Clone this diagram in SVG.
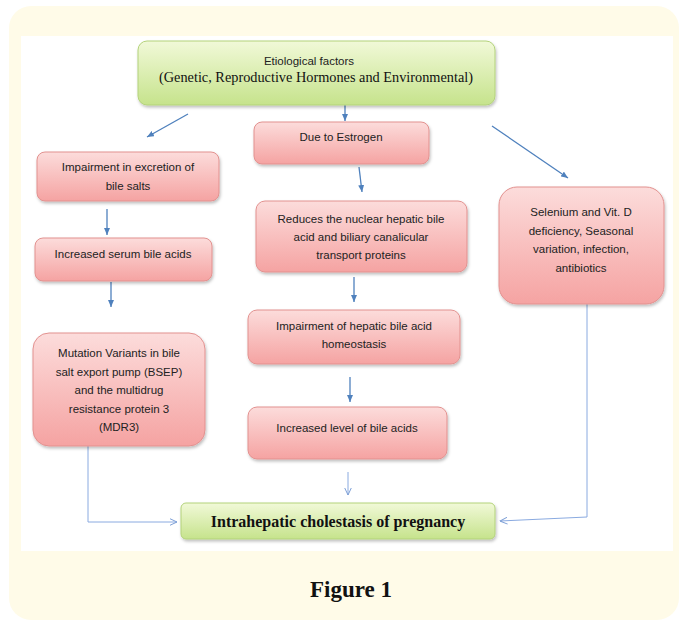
<svg xmlns="http://www.w3.org/2000/svg" width="679" height="621" viewBox="0 0 679 621">
<defs>
<linearGradient id="gRed" x1="0" y1="0" x2="0" y2="1">
<stop offset="0" stop-color="#fcdcdb"/>
<stop offset="1" stop-color="#f5a3a2"/>
</linearGradient>
<linearGradient id="gGreen" x1="0" y1="0" x2="0" y2="1">
<stop offset="0" stop-color="#f1f9d8"/>
<stop offset="1" stop-color="#c6e38c"/>
</linearGradient>
<filter id="sh" x="-10%" y="-10%" width="120%" height="130%">
<feDropShadow dx="1" dy="2" stdDeviation="1.5" flood-color="#000" flood-opacity="0.25"/>
</filter>
<marker id="mf" viewBox="0 0 7 6" refX="7" refY="3" markerWidth="7" markerHeight="6" markerUnits="userSpaceOnUse" orient="auto">
<path d="M0,0 L7,3 L0,6 z" fill="#4f81bd"/>
</marker>
<marker id="mo" viewBox="0 0 8 8" refX="7.5" refY="4" markerWidth="8" markerHeight="8" markerUnits="userSpaceOnUse" orient="auto">
<path d="M0,0.5 L7.5,4 L0,7.5" fill="none" stroke="#7d9fd6" stroke-width="1"/>
</marker>
<style>
.red{fill:url(#gRed);stroke:#e2918f;stroke-width:1;filter:url(#sh)}
.green{fill:url(#gGreen);stroke:#b3d27a;stroke-width:1;filter:url(#sh)}
.t{font-family:"Liberation Sans",Arial,sans-serif;font-size:11.5px;fill:#222;text-anchor:middle}
.s{font-family:"Liberation Serif","Times New Roman",serif;fill:#111;text-anchor:middle}
.c{fill:none;stroke:#4f81bd;stroke-width:1.3;marker-end:url(#mf)}
.o{fill:none;stroke:#8aaae0;stroke-width:1;marker-end:url(#mo)}
</style>
</defs>
<rect x="9" y="6" width="670" height="614" rx="22" fill="#fffbe8"/>
<rect x="21" y="36" width="652" height="515" fill="#ffffff"/>

<g id="connectors">
<path class="c" d="M345,105 L345,121"/>
<path class="c" d="M188,114 L147,137"/>
<path class="c" d="M492,126 L568,178"/>
<path class="c" d="M359,167 L362,192"/>
<path class="c" d="M354,277 L354,302"/>
<path class="c" d="M350,377 L350,402"/>
<path class="o" d="M348,472 L348,495"/>
<path class="c" d="M107,209 L107,235"/>
<path class="c" d="M111,282 L111,307"/>
<path class="o" d="M88,446 L88,522 L177,522"/>
<path class="o" d="M587,304 L587,517 L500,521"/>
</g>

<g id="n-etiological">
<rect class="green" x="138" y="41" width="357" height="64" rx="9"/>
<text class="t" x="309" y="65">Etiological  factors</text>
<text class="s" x="316" y="82" font-size="15" textLength="314" lengthAdjust="spacingAndGlyphs">(Genetic, Reproductive Hormones and Environmental)</text>
</g>

<g id="n-estrogen">
<rect class="red" x="254" y="122" width="175" height="42" rx="8"/>
<text class="t" x="341" y="141">Due to Estrogen</text>
</g>

<g id="n-excretion">
<rect class="red" x="37" y="152" width="182" height="49" rx="8"/>
<text class="t" x="128" y="171">Impairment in excretion of</text>
<text class="t" x="128" y="190">bile salts</text>
</g>

<g id="n-serum">
<rect class="red" x="35" y="238" width="177" height="43" rx="8"/>
<text class="t" x="123" y="258">Increased serum bile acids</text>
</g>

<g id="n-mutation">
<rect class="red" x="33" y="333" width="172" height="113" rx="16"/>
<text class="t" x="119" y="357">Mutation Variants in bile</text>
<text class="t" x="119" y="375.5">salt export pump (BSEP)</text>
<text class="t" x="119" y="394">and the multidrug</text>
<text class="t" x="119" y="412.5">resistance protein 3</text>
<text class="t" x="119" y="431">(MDR3)</text>
</g>

<g id="n-reduces">
<rect class="red" x="256" y="201" width="211" height="71" rx="9"/>
<text class="t" x="361" y="223">Reduces the nuclear hepatic bile</text>
<text class="t" x="361" y="241">acid and biliary canalicular</text>
<text class="t" x="361" y="259">transport proteins</text>
</g>

<g id="n-selenium">
<rect class="red" x="499" y="187" width="165" height="117" rx="18"/>
<text class="t" x="581" y="216">Selenium and Vit. D</text>
<text class="t" x="581" y="234.5">deficiency, Seasonal</text>
<text class="t" x="581" y="253">variation, infection,</text>
<text class="t" x="581" y="271.5">antibiotics</text>
</g>

<g id="n-homeostasis">
<rect class="red" x="248" y="310" width="212" height="54" rx="9"/>
<text class="t" x="354" y="330">Impairment of hepatic bile acid</text>
<text class="t" x="354" y="348">homeostasis</text>
</g>

<g id="n-level">
<rect class="red" x="248" y="407" width="199" height="52" rx="9"/>
<text class="t" x="347" y="432">Increased level of bile acids</text>
</g>

<g id="n-icp">
<rect class="green" x="181" y="503" width="314" height="36" rx="5"/>
<text class="s" x="338" y="527" font-size="16" font-weight="bold">Intrahepatic cholestasis of pregnancy</text>
</g>

<text class="s" x="351" y="597" font-size="23" font-weight="bold">Figure 1</text>
</svg>
